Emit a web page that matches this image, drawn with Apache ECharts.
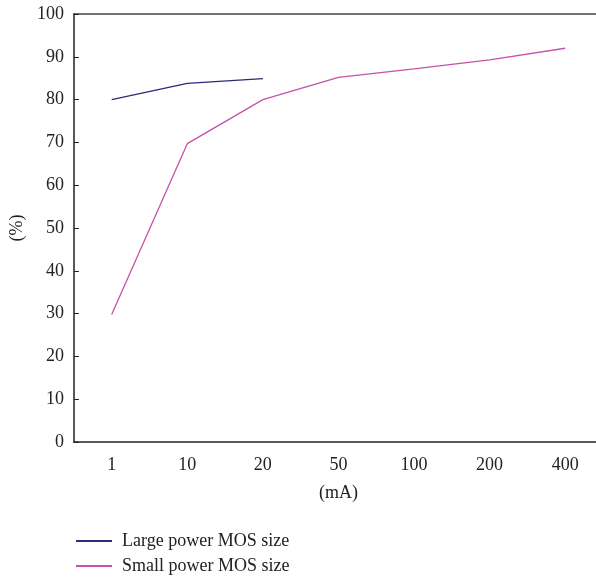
<!DOCTYPE html>
<html>
<head>
<meta charset="utf-8">
<script src="https://cdn.jsdelivr.net/npm/echarts@6/dist/echarts.min.js"></script>
<style>
  html, body { margin: 0; padding: 0; background: #fff; overflow: hidden; }
  #chart { width: 603px; height: 580px; }
</style>
</head>
<body>
<div id="chart"></div>
<script>
const categories = ["1", "10", "20", "50", "100", "200", "400"];
const largeMos = [80, 83.8, 84.9];
const smallMos = [29.8, 69.7, 80, 85.2, 87.2, 89.3, 92];

const FONT = "Liberation Serif";
const chart = echarts.init(document.getElementById("chart"));

const option = {
  animation: false,
  grid: { left: 73, top: 14, right: 0, bottom: 138 },
  legend: {
    orient: "vertical",
    left: 71,
    top: 527,
    itemWidth: 36,
    itemHeight: 2,
    itemGap: 7,
    icon: "rect",
    textStyle: { fontFamily: FONT, fontSize: 18, color: "#222", padding: [0, 0, 0, 5] },
    data: ["Large power MOS size", "Small power MOS size"]
  },
  xAxis: [
    {
      type: "category",
      data: categories,
      boundaryGap: true,
      name: "(mA)",
      nameLocation: "middle",
      nameGap: 42,
      nameTextStyle: { fontFamily: FONT, fontSize: 18, color: "#222" },
      axisLine: { lineStyle: { color: "#222", width: 1.5 } },
      axisTick: { inside: true, length: 5, lineStyle: { color: "#222" } },
      axisLabel: { fontFamily: FONT, fontSize: 18, color: "#222", margin: 14 },
      splitLine: { show: false }
    },
    {
      type: "category",
      position: "top",
      data: categories,
      axisLine: { lineStyle: { color: "#444", width: 1.5 } },
      axisTick: { show: false },
      axisLabel: { show: false }
    }
  ],
  yAxis: {
    type: "value",
    min: 0,
    max: 100,
    interval: 10,
    name: "(%)",
    nameLocation: "middle",
    nameGap: 43,
    nameTextStyle: { fontFamily: FONT, fontSize: 18, color: "#222" },
    axisLine: { show: true, lineStyle: { color: "#222", width: 1.5 } },
    axisTick: { show: true, inside: true, length: 5, lineStyle: { color: "#222" } },
    axisLabel: { fontFamily: FONT, fontSize: 18, color: "#222", margin: 10 },
    splitLine: { show: false }
  },
  series: [
    {
      name: "Large power MOS size",
      type: "line",
      data: largeMos,
      symbol: "none",
      color: "#2a2a78",
      lineStyle: { width: 1.3, color: "#2a2a78" }
    },
    {
      name: "Small power MOS size",
      type: "line",
      data: smallMos,
      symbol: "none",
      color: "#c552a8",
      lineStyle: { width: 1.3, color: "#c552a8" }
    }
  ]
};

chart.setOption(option);
</script>
</body>
</html>
